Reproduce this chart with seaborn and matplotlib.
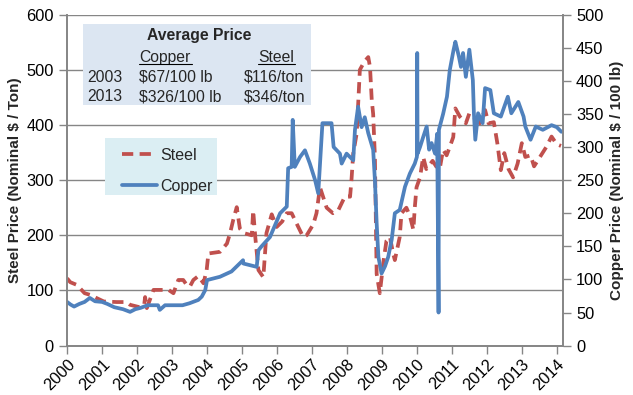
import matplotlib
matplotlib.use("Agg")
import matplotlib.pyplot as plt
import seaborn as sns
from matplotlib.patches import Rectangle
from matplotlib.lines import Line2D

# steel price, nominal $ / ton
steel_years = [
    2000.00, 2000.09, 2000.28, 2000.37, 2000.50, 2000.66, 2000.85, 2001.05, 2001.42, 2001.70,
    2001.80, 2002.05, 2002.20, 2002.23, 2002.28, 2002.47, 2002.75, 2002.90, 2003.04, 2003.18,
    2003.32, 2003.42, 2003.51, 2003.61, 2003.75, 2003.90, 2003.99, 2004.04, 2004.37, 2004.57,
    2004.66, 2004.75, 2004.85, 2004.94, 2005.05, 2005.28, 2005.32, 2005.38, 2005.47, 2005.61,
    2005.70, 2005.85, 2005.99, 2006.15, 2006.28, 2006.42, 2006.61, 2006.75, 2006.85, 2007.04,
    2007.13, 2007.23, 2007.42, 2007.60, 2007.75, 2007.94, 2008.09, 2008.13, 2008.18, 2008.28,
    2008.37, 2008.50, 2008.61, 2008.66, 2008.71, 2008.75, 2008.80, 2008.85, 2008.94, 2009.05,
    2009.13, 2009.23, 2009.32, 2009.37, 2009.51, 2009.56, 2009.70, 2009.80, 2009.90, 2009.94,
    2009.99, 2010.09, 2010.18, 2010.27, 2010.45, 2010.60, 2010.66, 2010.75, 2010.85, 2010.94,
    2011.04, 2011.10, 2011.23, 2011.40, 2011.50, 2011.80, 2011.95, 2012.05, 2012.20, 2012.30,
    2012.40, 2012.50, 2012.62, 2012.75, 2012.88, 2013.00, 2013.10, 2013.25, 2013.35, 2013.50,
    2013.70, 2013.85, 2014.00, 2014.12,
]
steel_price = [
    122, 115, 110, 104, 95, 92, 86, 80, 79, 79,
    74, 70, 72, 88, 68, 101, 101, 101, 95, 119,
    119, 110, 107, 119, 126, 113, 137, 167, 170, 185,
    204, 228, 251, 212, 204, 200, 245, 197, 137, 124,
    204, 238, 215, 225, 240, 240, 215, 197, 200, 220,
    240, 287, 250, 240, 245, 270, 270, 300, 348, 385,
    500, 515, 523, 505, 445, 420, 342, 130, 95, 155,
    190, 197, 167, 155, 197, 240, 250, 235, 210, 250,
    287, 305, 342, 320, 335, 320, 323, 355, 345, 360,
    378, 430, 415, 403, 421, 403, 427, 403, 405, 367,
    318, 349, 320, 305, 330, 367, 342, 345, 325, 340,
    360, 379, 365, 362,
]

# copper price, nominal $ / 100 lb
copper_years = [
    2000.00, 2000.10, 2000.20, 2000.35, 2000.50, 2000.65, 2000.80, 2001.00, 2001.15, 2001.35,
    2001.60, 2001.80, 2001.95, 2002.10, 2002.30, 2002.60, 2002.65, 2002.80, 2003.30, 2003.50,
    2003.75, 2003.85, 2003.95, 2004.00, 2004.37, 2004.70, 2005.03, 2005.04, 2005.42, 2005.47,
    2005.56, 2005.80, 2006.09, 2006.28, 2006.32, 2006.42, 2006.45, 2006.51, 2006.66, 2006.80,
    2006.94, 2007.09, 2007.18, 2007.30, 2007.37, 2007.56, 2007.62, 2007.80, 2007.85, 2007.99,
    2008.18, 2008.23, 2008.32, 2008.42, 2008.51, 2008.61, 2008.75, 2008.80, 2008.85, 2008.90,
    2008.99, 2009.09, 2009.18, 2009.28, 2009.37, 2009.51, 2009.66, 2009.80, 2009.94, 2010.00,
    2010.01, 2010.02, 2010.09, 2010.18, 2010.28, 2010.35, 2010.42, 2010.52, 2010.58, 2010.62,
    2010.63, 2010.75, 2010.86, 2010.94, 2011.05, 2011.10, 2011.20, 2011.26, 2011.32, 2011.40,
    2011.50, 2011.60, 2011.63, 2011.67, 2011.75, 2011.88, 2011.95, 2012.10, 2012.20, 2012.40,
    2012.60, 2012.70, 2012.90, 2013.05, 2013.10, 2013.25, 2013.40, 2013.60, 2013.85, 2014.00,
    2014.13,
]
copper_price = [
    66, 62, 59, 63, 66, 72, 67, 66, 63, 58,
    55, 51, 55, 57, 61, 61, 54, 61, 61, 64,
    69, 74, 84, 99, 104, 112, 129, 124, 119, 144,
    150, 164, 200, 210, 268, 270, 341, 270, 285, 295,
    275, 250, 230, 336, 336, 336, 300, 290, 275, 290,
    280, 326, 361, 330, 345, 321, 296, 250, 185, 134,
    109, 120, 134, 160, 200, 205, 240, 260, 275, 285,
    442, 290, 300, 315, 331, 296, 306, 290, 320, 50,
    326, 350, 376, 416, 447, 459, 437, 421, 442, 406,
    447, 401, 351, 311, 351, 336, 389, 386, 351, 346,
    376, 351, 368, 346, 331, 311, 331, 326, 333, 330,
    323,
]

year_ticks = list(range(2000, 2015))
steel_ticks = [0, 100, 200, 300, 400, 500, 600]
copper_ticks = [0, 50, 100, 150, 200, 250, 300, 350, 400, 450, 500]

# average price box
table_rows = [
    ("2003", "$67/100 lb", "$116/ton"),
    ("2013", "$326/100 lb", "$346/ton"),
]

steel_color = "#C0504D"
copper_color = "#4F81BD"
grid_color = "#868686"

sns.set_theme(style="white")
plt.rcParams["font.family"] = ["Liberation Sans", "DejaVu Sans"]

fig, ax = plt.subplots(figsize=(6.33, 3.95), dpi=100)
fig.subplots_adjust(left=0.106, right=0.889, bottom=0.125, top=0.963)
ax2 = ax.twinx()

sns.lineplot(x=steel_years, y=steel_price, ax=ax, color=steel_color,
             linewidth=2.7, linestyle=(0, (3, 1.7)), legend=False)
sns.lineplot(x=copper_years, y=copper_price, ax=ax2, color=copper_color,
             linewidth=2.7, legend=False)

ax.set_xlim(2000, 2014.17)
ax.set_ylim(0, 600)
ax2.set_ylim(0, 500)
ax.set_xticks(year_ticks)
ax.set_xticklabels([str(y) for y in year_ticks], rotation=45, ha="right",
                   rotation_mode="anchor")
ax.set_yticks(steel_ticks)
ax2.set_yticks(copper_ticks)

ax.yaxis.grid(True, color=grid_color, linewidth=1)
ax.set_axisbelow(True)
for a in (ax, ax2):
    for side in a.spines:
        a.spines[side].set_color(grid_color)
    a.spines["top"].set_visible(False)
    a.tick_params(colors=grid_color, labelcolor="black", labelsize=11.8,
                  length=6, width=1, direction="out")
ax.tick_params(axis="x", pad=2)
ax.tick_params(left=True, bottom=True)
ax2.tick_params(right=True)

ax.set_xlabel("")
ax.set_ylabel("Steel Price (Nominal $ / Ton)", fontsize=11, fontweight="bold", labelpad=3)
ax2.set_ylabel("Copper Price (Nominal $ / 100 lb)", fontsize=11, fontweight="bold", labelpad=5)

# table of average prices
ax2.add_patch(Rectangle((0.032, 0.727), 0.46, 0.245, transform=ax2.transAxes,
                        facecolor="#DCE6F2", edgecolor="none", zorder=5))
ax2.text(0.266, 0.922, "Average Price", transform=ax2.transAxes, ha="center",
         va="baseline", fontsize=11.3, fontweight="bold", zorder=6)
ax2.text(0.198, 0.858, "Copper", transform=ax2.transAxes,
         ha="center", va="baseline", fontsize=11.3, zorder=6)
ax2.text(0.422, 0.858, "Steel", transform=ax2.transAxes,
         ha="center", va="baseline", fontsize=11.3, zorder=6)
for x0, x1 in [(0.145, 0.252), (0.385, 0.459)]:
    ax2.add_line(Line2D([x0, x1], [0.851, 0.851], transform=ax2.transAxes,
                        color="black", linewidth=0.8, zorder=6))
for i, (yr, cu, st) in enumerate(table_rows):
    yy = 0.797 - i * 0.059
    ax2.text(0.040, yy, yr, transform=ax2.transAxes, ha="left", va="baseline",
             fontsize=11.3, zorder=6)
    ax2.text(0.145, yy, cu, transform=ax2.transAxes, ha="left", va="baseline",
             fontsize=11.3, zorder=6)
    ax2.text(0.357, yy, st, transform=ax2.transAxes, ha="left", va="baseline",
             fontsize=11.3, zorder=6)

# legend box
ax2.add_patch(Rectangle((0.077, 0.455), 0.226, 0.172, transform=ax2.transAxes,
                        facecolor="#DBEEF3", edgecolor="none", zorder=5))
handles = [
    Line2D([], [], color=steel_color, linewidth=2.7, linestyle=(0, (3, 1.7))),
    Line2D([], [], color=copper_color, linewidth=2.7),
]
leg = ax2.legend(handles, ["Steel", "Copper"], loc="upper left",
                 bbox_to_anchor=(0.085, 0.637), frameon=False, fontsize=11.5,
                 handlelength=2.2, handletextpad=0.2, labelspacing=1.0,
                 borderpad=0.3)
leg.set_zorder(7)

fig.savefig("out.png", dpi=100)
